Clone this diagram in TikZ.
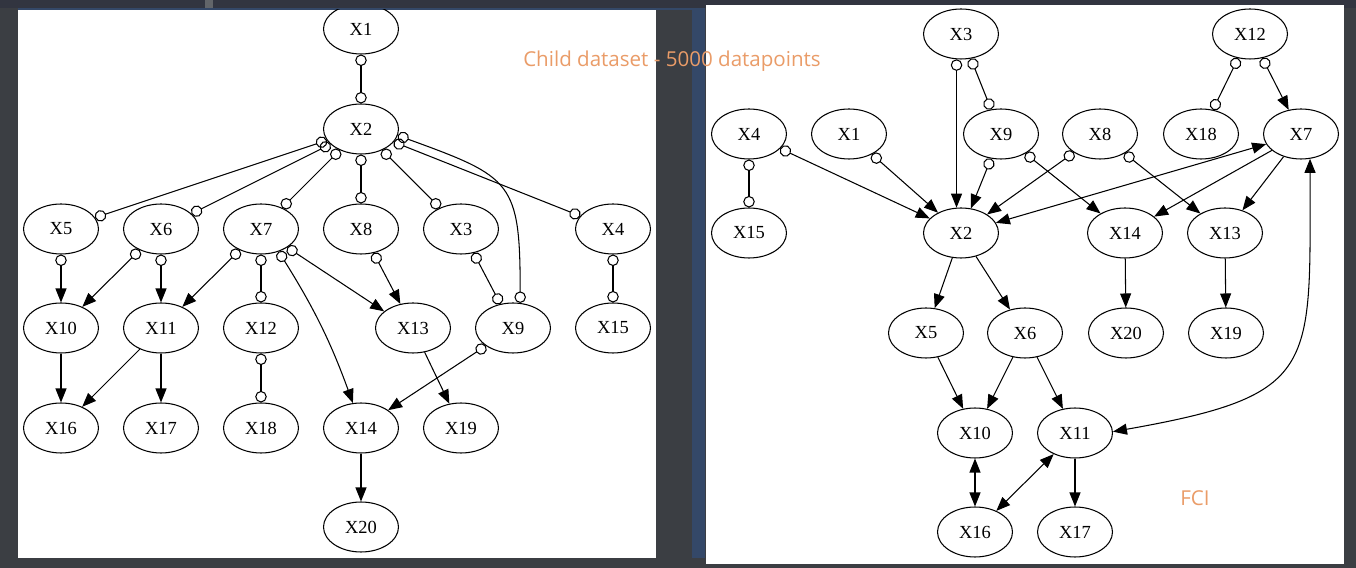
\documentclass[tikz,border=0pt]{standalone}
\usepackage{fontspec}
\setmainfont{Liberation Serif}
\newfontfamily\notefont{Open Sans}
\usetikzlibrary{shapes.geometric,arrows.meta}
\definecolor{bgdark}{RGB}{59,62,67}
\definecolor{topbar}{RGB}{50,53,64}
\definecolor{blueband}{RGB}{52,72,104}
\definecolor{noteorange}{RGB}{234,156,104}
\begin{document}
\begin{tikzpicture}[x=0.02cm,y=0.02cm,
    var/.style={ellipse,draw,line width=0.6pt,minimum width=1.5cm,minimum height=1cm,inner sep=0pt,font=\fontsize{10.5}{12}\selectfont},
    lnk/.style={line width=0.6pt},
    cc/.style={lnk,arrows={{Circle[open,length=2.3mm]}-{Circle[open,length=2.3mm]}}},
    ca/.style={lnk,arrows={{Circle[open,length=2.3mm]}-{Triangle[length=2.8mm,width=2.2mm]}}},
    ar/.style={lnk,arrows={-{Triangle[length=2.8mm,width=2.2mm]}}},
    aa/.style={lnk,arrows={{Triangle[length=2.8mm,width=2.2mm]}-{Triangle[length=2.8mm,width=2.2mm]}}},
    note/.style={text=noteorange,font=\notefont\fontsize{11.7}{13}\selectfont}]
  \useasboundingbox (0,0) rectangle (1356,568);
  \fill[bgdark] (0,0) rectangle (1356,568);
  \fill[topbar] (0,560) rectangle (1356,568);
  \fill[bgdark!80!white] (205,560) rectangle (213,568);
  \fill[blueband] (18,558) rectangle (705,560);
  \fill[blueband] (692,10) rectangle (705,560);
  \fill[white] (18,10) rectangle (656,558);
  \fill[white] (706,4) rectangle (1344,563);
  \begin{scope}
    \clip (18,10) rectangle (656,558);
    \node[var] (l1) at (361,539) {X1};
    \node[var] (l2) at (361,439) {X2};
    \node[var] (l5) at (61,339) {X5};
    \node[var] (l6) at (161,339) {X6};
    \node[var] (l7) at (261,339) {X7};
    \node[var] (l8) at (361,339) {X8};
    \node[var] (l3) at (461,339) {X3};
    \node[var] (l4) at (613,339) {X4};
    \node[var] (l10) at (61,240) {X10};
    \node[var] (l11) at (161,240) {X11};
    \node[var] (l12) at (261,240) {X12};
    \node[var] (l13) at (413,240) {X13};
    \node[var] (l9) at (513,240) {X9};
    \node[var] (l15) at (613,240) {X15};
    \node[var] (l16) at (61,140) {X16};
    \node[var] (l17) at (161,140) {X17};
    \node[var] (l18) at (261,140) {X18};
    \node[var] (l14) at (361,140) {X14};
    \node[var] (l19) at (461,140) {X19};
    \node[var] (l20) at (361,41) {X20};
    \draw[cc] (l1) -- (l2);
    \draw[cc] (l2) -- (l5);
    \draw[cc] (l2) -- (l6);
    \draw[cc] (l2) -- (l7);
    \draw[cc] (l2) -- (l8);
    \draw[cc] (l2) -- (l3);
    \draw[cc] (l2) -- (l4);
    \draw[cc] (l2.-10) to[out=-20,in=90,looseness=1.5] (l9.74);
    \draw[ca] (l5) -- (l10);
    \draw[ca] (l6) -- (l10);
    \draw[ca] (l6) -- (l11);
    \draw[ca] (l7) -- (l11);
    \draw[cc] (l7) -- (l12);
    \draw[ca] (l7.-52) to[out=-58,in=110] (l14.108);
    \draw[ca] (l7.-35) -- (l13.150);
    \draw[ca] (l8) -- (l13);
    \draw[cc] (l3) -- (l9);
    \draw[cc] (l4) -- (l15);
    \draw[ar] (l10) -- (l16);
    \draw[ar] (l11) -- (l16);
    \draw[ar] (l11) -- (l17);
    \draw[cc] (l12) -- (l18);
    \draw[ar] (l13) -- (l19);
    \draw[ca] (l9) -- (l14);
    \draw[ar] (l14) -- (l20);
  \end{scope}
  \node[var] (r3) at (961,534) {X3};
  \node[var] (r12) at (1250,534) {X12};
  \node[var] (r4) at (749,434) {X4};
  \node[var] (r1) at (849,434) {X1};
  \node[var] (r9) at (1001,434) {X9};
  \node[var] (r8) at (1100,434) {X8};
  \node[var] (r18) at (1201,434) {X18};
  \node[var] (r7) at (1301,434) {X7};
  \node[var] (r15) at (749,335) {X15};
  \node[var] (r2) at (961,335) {X2};
  \node[var] (r14) at (1125,335) {X14};
  \node[var] (r13) at (1225,335) {X13};
  \node[var] (r5) at (926,235) {X5};
  \node[var] (r6) at (1025,235) {X6};
  \node[var] (r20) at (1126,235) {X20};
  \node[var] (r19) at (1226,235) {X19};
  \node[var] (r10) at (975,135) {X10};
  \node[var] (r11) at (1075,135) {X11};
  \node[var] (r16) at (975,36) {X16};
  \node[var] (r17) at (1075,36) {X17};
  \draw[ca] (r3.-100) -- (r2.100);
  \draw[cc] (r3) -- (r9);
  \draw[cc] (r12) -- (r18);
  \draw[ca] (r12) -- (r7);
  \draw[cc] (r4) -- (r15);
  \draw[ca] (r4) -- (r2);
  \draw[ca] (r1) -- (r2);
  \draw[ca] (r9) -- (r2);
  \draw[ca] (r9) -- (r14);
  \draw[ca] (r8) -- (r2);
  \draw[ca] (r8) -- (r13);
  \draw[aa] (r2) -- (r7);
  \draw[ar] (r7) -- (r14);
  \draw[ar] (r7) -- (r13);
  \draw[aa] (r11.2) to[out=10,in=-90,looseness=1.6] (r7.-70);
  \draw[ar] (r2) -- (r5);
  \draw[ar] (r2) -- (r6);
  \draw[ar] (r14) -- (r20);
  \draw[ar] (r13) -- (r19);
  \draw[ar] (r5) -- (r10);
  \draw[ar] (r6) -- (r10);
  \draw[ar] (r6) -- (r11);
  \draw[aa] (r10) -- (r16);
  \draw[aa] (r11) -- (r16);
  \draw[ar] (r11) -- (r17);
  \node[note] (fci) at (1195,70) {FCI};
  \node[note] (title) at (672,507) {Child dataset - 5000 datapoints};
\end{tikzpicture}
\end{document}
